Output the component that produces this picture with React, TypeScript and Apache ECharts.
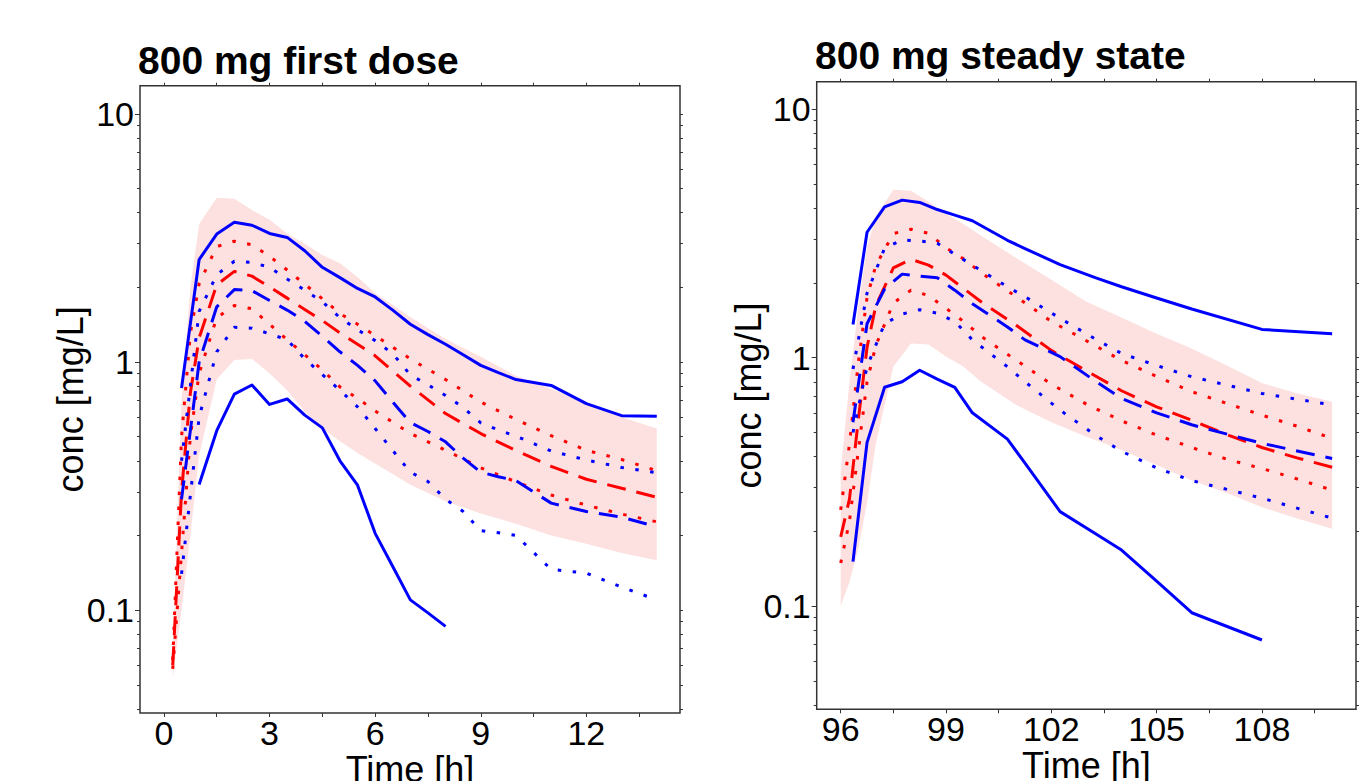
import React, { useEffect, useRef } from "react";
import * as echarts from "echarts";

const FONT = "'Liberation Sans', Arial, Helvetica, sans-serif";
const BLUE = "#0000ff";
const RED = "#ff0000";
const PINK = "#fde1e1";

// ---------- tick values ----------
const L_X_LABELS = [0, 3, 6, 9, 12];
const L_X_TICKS = [0, 1.5, 3, 4.5, 6, 7.5, 9, 10.5, 12, 13.5];
const R_X_LABELS = [96, 99, 102, 105, 108];
const R_X_TICKS = [96, 97.5, 99, 100.5, 102, 103.5, 105, 106.5, 108, 109.5];
const Y_MAJOR = [0.1, 1, 10];
const Y_MINOR = [0.04, 0.05, 0.06, 0.07, 0.08, 0.09, 0.2, 0.3, 0.4, 0.5, 0.6, 0.7, 0.8, 0.9, 2, 3, 4, 5, 6, 7, 8, 9];

// ---------- left panel: 800 mg first dose ----------
const L_PRED_T = [0.25, 0.5, 0.75, 1, 1.5, 2, 2.5, 3, 3.5, 4, 4.5, 5, 5.5, 6, 7, 8, 9, 10, 11, 12, 13, 14];
const L_BAND_HI = [0.068, 0.7, 2.0, 3.6, 4.6, 4.55, 4.1, 3.75, 3.3, 3.0, 2.7, 2.5, 2.2, 1.9, 1.52, 1.24, 1.05, 0.88, 0.78, 0.68, 0.6, 0.54];
const L_BAND_LO = [0.053, 0.1, 0.2, 0.42, 0.85, 1.02, 1.03, 0.9, 0.77, 0.63, 0.54, 0.48, 0.43, 0.39, 0.32, 0.275, 0.245, 0.223, 0.2, 0.185, 0.17, 0.159];
const L_PRED_HI = [0.063, 0.5, 1.3, 2.07, 2.92, 3.07, 2.97, 2.67, 2.35, 2.06, 1.8, 1.57, 1.42, 1.28, 1.03, 0.85, 0.69, 0.587, 0.505, 0.441, 0.405, 0.365];
const L_PRED_MED = [0.06, 0.3, 0.75, 1.25, 2.05, 2.32, 2.22, 2.01, 1.81, 1.63, 1.47, 1.31, 1.18, 1.06, 0.8, 0.62, 0.515, 0.44, 0.38, 0.337, 0.31, 0.285];
const L_PRED_LO = [0.058, 0.17, 0.5, 0.9, 1.51, 1.69, 1.64, 1.42, 1.23, 1.07, 0.93, 0.794, 0.714, 0.635, 0.516, 0.441, 0.375, 0.329, 0.291, 0.265, 0.244, 0.227];

const L_OBS_T = [0.5, 1, 1.5, 2, 2.5, 3, 3.5, 4, 4.5, 5, 5.5, 6, 6.5, 7, 7.5, 8, 8.5, 9, 9.5, 10, 11, 12, 13, 14];
const L_OBS_MAX = [0.785, 2.59, 3.28, 3.66, 3.56, 3.3, 3.18, 2.81, 2.41, 2.19, 1.98, 1.83, 1.62, 1.42, 1.29, 1.18, 1.07, 0.97, 0.906, 0.85, 0.805, 0.68, 0.608, 0.605];
const L_OBS_MIN = [null, 0.321, 0.529, 0.743, 0.808, 0.675, 0.71, 0.611, 0.543, 0.4, 0.319, 0.204, 0.15, 0.11, 0.0975, 0.086, null, null, null, null, null, null, null, null];
const L_OBS_HI = [0.4, 1.6, 2.25, 2.55, 2.52, 2.41, 2.16, 1.95, 1.75, 1.51, 1.35, 1.22, 1.08, 0.887, 0.81, 0.733, 0.656, 0.569, 0.532, 0.503, 0.438, 0.403, 0.376, 0.358];
const L_OBS_MED = [0.28, 1.0, 1.67, 1.96, 1.94, 1.77, 1.62, 1.46, 1.27, 1.1, 0.97, 0.84, 0.69, 0.57, 0.525, 0.477, 0.41, 0.36, 0.345, 0.333, 0.27, 0.25, 0.237, 0.217];
const L_OBS_LO = [0.14, 0.6, 1.1, 1.38, 1.37, 1.3, 1.23, 1.03, 0.89, 0.77, 0.66, 0.54, 0.44, 0.36, 0.33, 0.28, 0.25, 0.209, 0.205, 0.2, 0.146, 0.141, 0.124, 0.11];

// ---------- right panel: 800 mg steady state ----------
const R_PRED_T = [96, 96.25, 96.5, 96.75, 97, 97.5, 98, 98.5, 99, 99.5, 100, 101, 102, 103, 104, 105, 106, 107, 108, 109, 110];
const R_BAND_HI = [0.35, 0.8, 1.6, 2.8, 3.7, 4.75, 4.7, 4.25, 3.8, 3.45, 3.1, 2.52, 2.06, 1.68, 1.45, 1.25, 1.09, 0.93, 0.79, 0.72, 0.665];
const R_BAND_LO = [0.1, 0.125, 0.17, 0.26, 0.45, 0.92, 1.14, 1.13, 1.01, 0.92, 0.8, 0.645, 0.55, 0.48, 0.425, 0.37, 0.32, 0.285, 0.25, 0.225, 0.205];
const R_PRED_HI = [0.244, 0.45, 0.95, 1.75, 2.35, 3.16, 3.29, 3.17, 2.77, 2.5, 2.2, 1.76, 1.4, 1.17, 0.975, 0.84, 0.73, 0.655, 0.587, 0.53, 0.473];
const R_PRED_MED = [0.19, 0.27, 0.56, 1.1, 1.62, 2.3, 2.49, 2.36, 2.15, 1.9, 1.68, 1.35, 1.07, 0.885, 0.736, 0.634, 0.56, 0.49, 0.435, 0.395, 0.362];
const R_PRED_LO = [0.149, 0.22, 0.42, 0.8, 1.12, 1.66, 1.87, 1.78, 1.58, 1.4, 1.22, 0.977, 0.783, 0.65, 0.557, 0.488, 0.435, 0.39, 0.358, 0.325, 0.293];

const R_OBS_T = [96.35, 96.75, 97.25, 97.75, 98.25, 98.75, 99.25, 99.75, 100.75, 101.25, 102.25, 103.25, 104, 105, 106, 108, 110];
const R_OBS_MAX = [1.36, 3.2, 4.05, 4.31, 4.22, 3.95, 3.75, 3.56, 2.97, 2.75, 2.37, 2.1, 1.93, 1.74, 1.57, 1.3, 1.25];
const R_OBS_MIN = [0.151, 0.455, 0.76, 0.8, 0.89, 0.82, 0.76, 0.6, 0.47, 0.376, 0.24, 0.196, 0.168, 0.126, 0.094, 0.073, null];
const R_OBS_HI = [0.9, 1.82, 2.76, 2.98, 2.95, 2.89, 2.61, 2.36, 1.93, 1.76, 1.44, 1.19, 1.04, 0.93, 0.838, 0.718, 0.645];
const R_OBS_MED = [0.55, 1.37, 1.89, 2.17, 2.13, 2.1, 1.87, 1.65, 1.33, 1.18, 1.01, 0.805, 0.685, 0.6, 0.537, 0.452, 0.393];
const R_OBS_LO = [0.5, 0.92, 1.37, 1.5, 1.56, 1.51, 1.4, 1.18, 0.92, 0.8, 0.615, 0.488, 0.42, 0.36, 0.32, 0.272, 0.226];

// ---------- helpers ----------
const DOTTED = [3.5, 11.5];
const DASHED = [19, 11];

function pairs(T: number[], V: (number | null)[]) {
  return T.map((t, i) => [t, V[i]]).filter((p) => p[1] != null);
}

function line(T: number[], V: (number | null)[], color: string, type: any, xi: number, yi: number, z: number) {
  return {
    type: "line",
    xAxisIndex: xi,
    yAxisIndex: yi,
    data: pairs(T, V),
    showSymbol: false,
    symbol: "none",
    silent: true,
    z,
    lineStyle: { color, width: 3, type, cap: "butt", join: "round" },
  };
}

function band(T: number[], hi: number[], lo: number[], xi: number, yi: number) {
  return {
    type: "custom",
    xAxisIndex: xi,
    yAxisIndex: yi,
    silent: true,
    z: 1,
    data: [[T[0], hi[0]]],
    renderItem: (params: any, api: any) => {
      const pts: number[][] = [];
      for (let i = 0; i < T.length; i++) pts.push(api.coord([T[i], hi[i]]));
      for (let i = T.length - 1; i >= 0; i--) pts.push(api.coord([T[i], lo[i]]));
      return { type: "polygon", shape: { points: pts }, style: { fill: PINK } };
    },
  };
}

const TICK_STYLE = { color: "#333", width: 1 };
const NO_LINE = { show: false, onZero: false };

function xAxes(gi: number, min: number, max: number, labels: number[], ticks: number[]) {
  return [
    {
      type: "value",
      gridIndex: gi,
      position: "bottom",
      min,
      max,
      axisLine: NO_LINE,
      splitLine: { show: false },
      axisTick: { show: true, customValues: ticks, length: 4, lineStyle: TICK_STYLE },
      axisLabel: { customValues: labels, fontSize: 34, color: "#000", margin: 3, fontFamily: FONT },
      name: "Time [h]",
      nameLocation: "middle",
      nameGap: 38,
      nameMoveOverlap: false,
      nameTextStyle: { fontSize: 36, color: "#000", fontFamily: FONT },
    },
    {
      type: "value",
      gridIndex: gi,
      position: "top",
      min,
      max,
      axisLine: NO_LINE,
      splitLine: { show: false },
      axisTick: { show: true, customValues: ticks, length: 3, lineStyle: TICK_STYLE },
      axisLabel: { show: false },
    },
  ];
}

function yAxes(gi: number, min: number, max: number, gap: number) {
  return [
    {
      type: "log",
      logBase: 10,
      gridIndex: gi,
      position: "left",
      min,
      max,
      axisLine: NO_LINE,
      splitLine: { show: false },
      minorTick: { show: false },
      axisTick: { show: true, customValues: Y_MAJOR, length: 5, lineStyle: TICK_STYLE },
      axisLabel: {
        customValues: Y_MAJOR,
        fontSize: 34,
        color: "#000",
        margin: 6,
        fontFamily: FONT,
        formatter: (v: number) => (v >= 1 ? String(Math.round(v)) : v.toFixed(1)),
      },
      name: "conc [mg/L]",
      nameLocation: "middle",
      nameGap: gap,
      nameMoveOverlap: false,
      nameTextStyle: { fontSize: 36, color: "#000", fontFamily: FONT },
    },
    {
      type: "log",
      logBase: 10,
      gridIndex: gi,
      position: "left",
      min,
      max,
      axisLine: NO_LINE,
      splitLine: { show: false },
      minorTick: { show: false },
      axisTick: { show: true, customValues: Y_MINOR, length: 3, lineStyle: TICK_STYLE },
      axisLabel: { show: false },
    },
    {
      type: "log",
      logBase: 10,
      gridIndex: gi,
      position: "right",
      min,
      max,
      axisLine: NO_LINE,
      splitLine: { show: false },
      minorTick: { show: false },
      axisTick: { show: true, customValues: Y_MAJOR.concat(Y_MINOR), length: 3, lineStyle: TICK_STYLE },
      axisLabel: { show: false },
    },
  ];
}

function panelSeries(
  xi: number,
  yi: number,
  PT: number[], bandHi: number[], bandLo: number[], pHi: number[], pMed: number[], pLo: number[],
  OT: number[], oMax: (number | null)[], oMin: (number | null)[], oHi: number[], oMed: number[], oLo: number[]
) {
  return [
    band(PT, bandHi, bandLo, xi, yi),
    line(PT, pHi, RED, DOTTED, xi, yi, 3),
    line(PT, pLo, RED, DOTTED, xi, yi, 3),
    line(PT, pMed, RED, DASHED, xi, yi, 3),
    line(OT, oHi, BLUE, DOTTED, xi, yi, 4),
    line(OT, oLo, BLUE, DOTTED, xi, yi, 4),
    line(OT, oMed, BLUE, DASHED, xi, yi, 4),
    line(OT, oMax, BLUE, "solid", xi, yi, 4),
    line(OT, oMin, BLUE, "solid", xi, yi, 4),
  ];
}

const gridBase = {
  show: true,
  borderColor: "#333",
  borderWidth: 1.5,
  backgroundColor: "transparent",
  containLabel: false,
  outerBoundsMode: "none",
};

const option: any = {
  animation: false,
  backgroundColor: "#ffffff",
  textStyle: { fontFamily: FONT },
  title: [
    {
      text: "800 mg first dose",
      left: 138,
      top: 41,
      padding: 0,
      textStyle: { fontSize: 39, fontWeight: "bold", color: "#000", fontFamily: FONT },
    },
    {
      text: "800 mg steady state",
      left: 815,
      top: 36,
      padding: 0,
      textStyle: { fontSize: 39, fontWeight: "bold", color: "#000", fontFamily: FONT },
    },
  ],
  grid: [
    { ...gridBase, left: 140, top: 85.7, width: 540, height: 627.3 },
    { ...gridBase, left: 816.7, top: 81.7, width: 539.3, height: 627.6 },
  ],
  xAxis: [
    ...xAxes(0, -0.68, 14.66, L_X_LABELS, L_X_TICKS),
    ...xAxes(1, 95.316, 110.68, R_X_LABELS, R_X_TICKS),
  ],
  yAxis: [...yAxes(0, 0.0385, 13.0, 52), ...yAxes(1, 0.0384, 12.92, 50)],
  series: [
    ...panelSeries(0, 0, L_PRED_T, L_BAND_HI, L_BAND_LO, L_PRED_HI, L_PRED_MED, L_PRED_LO,
      L_OBS_T, L_OBS_MAX, L_OBS_MIN, L_OBS_HI, L_OBS_MED, L_OBS_LO),
    ...panelSeries(2, 3, R_PRED_T, R_BAND_HI, R_BAND_LO, R_PRED_HI, R_PRED_MED, R_PRED_LO,
      R_OBS_T, R_OBS_MAX, R_OBS_MIN, R_OBS_HI, R_OBS_MED, R_OBS_LO),
  ],
};

export default function App() {
  const ref = useRef<HTMLDivElement>(null);
  useEffect(() => {
    const chart = echarts.init(ref.current as HTMLDivElement, undefined, { renderer: "svg" });
    chart.setOption(option);
    return () => chart.dispose();
  }, []);
  return (
    <div
      ref={ref}
      style={{ position: "absolute", left: 0, top: 0, width: 1372, height: 781, background: "#fff" }}
    />
  );
}
